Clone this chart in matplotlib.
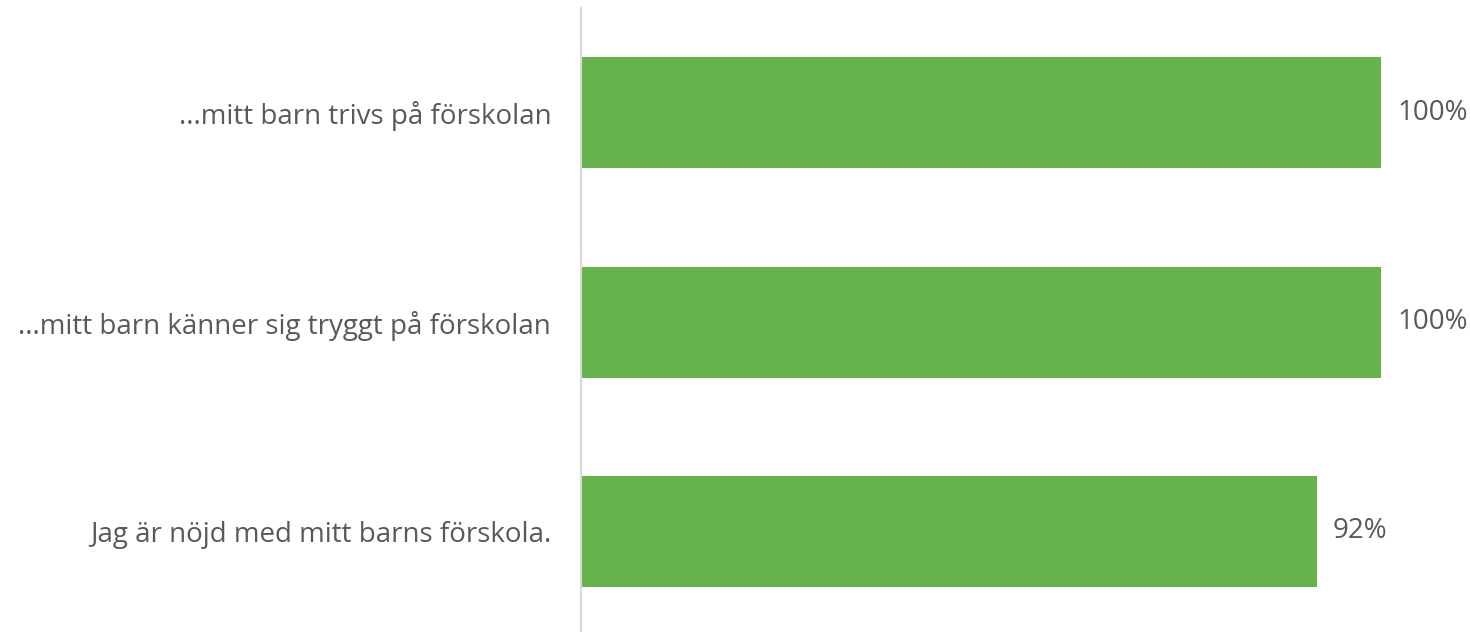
import matplotlib
matplotlib.use("Agg")
import matplotlib.pyplot as plt

categories = ["...mitt barn trivs på förskolan",
              "...mitt barn känner sig tryggt på förskolan",
              "Jag är nöjd med mitt barns förskola."]
values = [100, 100, 92]
value_labels = ["100%", "100%", "92%"]

W, H = 1470, 632
fig = plt.figure(figsize=(W/100, H/100), dpi=100)
left_px = 581
ax = fig.add_axes([left_px/W, 0, (W-left_px)/W, (H-8)/H])
green = "#66B34C"
txt = "#595959"
ypos = list(range(len(categories)))
ax.barh(ypos, values, height=0.53, color=green)
ax.set_xlim(0, (W-left_px)/8.0)
ax.set_ylim(2.48, -0.5)
for s in ["top", "right", "bottom"]:
    ax.spines[s].set_visible(False)
ax.spines["left"].set_color("#D9D9D9")
ax.spines["left"].set_linewidth(1.5)
ax.set_xticks([])
ax.set_yticks(ypos)
ax.set_yticklabels(categories, fontsize=20, color=txt, family="Open Sans")
ax.tick_params(axis="y", length=0, pad=21.5)
for y, v, l in zip(ypos, values, value_labels):
    ax.text(v + 2, y, l, va="center", ha="left", fontsize=20, color=txt, family="Open Sans")
fig.savefig("out.png", dpi=100)
